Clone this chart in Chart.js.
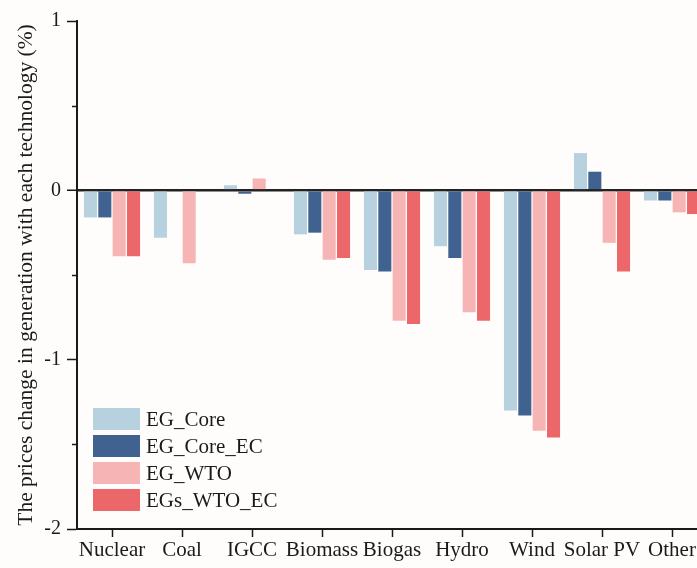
<!DOCTYPE html>
<html>
<head>
<meta charset="utf-8">
<script src="https://cdn.jsdelivr.net/npm/chart.js@4.4.1/dist/chart.umd.min.js"></script>
<style>
  html, body { margin: 0; padding: 0; background: #fefdfc; overflow: hidden; }
  canvas { display: block; }
</style>
</head>
<body>
<canvas id="barChart" width="708" height="568"></canvas>
<script>
// categories and series
var technologies = ['Nuclear', 'Coal', 'IGCC', 'Biomass', 'Biogas', 'Hydro', 'Wind', 'Solar PV', 'Other'];
var egCore    = [-0.16, -0.28,  0.03, -0.26, -0.47, -0.33, -1.30,  0.22, -0.06];
var egCoreEC  = [-0.16,  0.00, -0.02, -0.25, -0.48, -0.40, -1.33,  0.11, -0.06];
var egWTO     = [-0.39, -0.43,  0.07, -0.41, -0.77, -0.72, -1.42, -0.31, -0.13];
var egsWTOEC  = [-0.39,  0.00,  0.00, -0.40, -0.79, -0.77, -1.46, -0.48, -0.14];
var seriesNames = ['EG_Core', 'EG_Core_EC', 'EG_WTO', 'EGs_WTO_EC'];
var yTicks = [-2, -1, 0, 1];
var yMinorTicks = [-1.5, -0.5, 0.5];

var serif = '"Liberation Serif", "Times New Roman", serif';
var ink = '#1a1a1a';
var colors = ['#b8d1de', '#3f6290', '#f7b4b5', '#ec6769'];

// legend sits inside the plot, lower left; short minor ticks on y
var extras = {
    id: 'extras',
    afterDraw: function(chart) {
        var ctx = chart.ctx;
        var area = chart.chartArea;
        var yScale = chart.scales.y;
        ctx.save();
        ctx.strokeStyle = ink;
        ctx.lineWidth = 1.5;
        yMinorTicks.forEach(function(v) {
            var py = Math.round(yScale.getPixelForValue(v)) + 0.5;
            ctx.beginPath();
            ctx.moveTo(area.left - 5, py);
            ctx.lineTo(area.left, py);
            ctx.stroke();
        });
        var x = area.left + 16;
        var y = area.bottom - 121;
        ctx.font = '21px ' + serif;
        ctx.textBaseline = 'middle';
        chart.data.datasets.forEach(function(ds, i) {
            ctx.fillStyle = ds.backgroundColor;
            ctx.fillRect(x, y + i * 27, 47, 22);
            ctx.fillStyle = ink;
            ctx.fillText(ds.label, x + 53, y + i * 27 + 12);
        });
        ctx.restore();
    }
};

var ctx = document.getElementById('barChart');
var myBarChart = new Chart(ctx, {
    type: 'bar',
    data: {
        labels: technologies,
        datasets: [egCore, egCoreEC, egWTO, egsWTOEC].map(function(vals, i) {
            return {
                label: seriesNames[i],
                data: vals,
                backgroundColor: colors[i],
                borderWidth: 0,
                categoryPercentage: 0.82,
                barPercentage: 0.91
            };
        })
    },
    options: {
        responsive: false,
        animation: false,
        layout: { padding: { top: 21, right: 1, left: 0, bottom: 0 } },
        plugins: {
            legend: { display: false },
            tooltip: { enabled: false }
        },
        scales: {
            x: {
                afterFit: function(s) { s.height = 39; },
                border: { color: ink, width: 2 },
                grid: {
                    offset: false,
                    drawOnChartArea: false,
                    tickLength: 8,
                    tickColor: ink,
                    tickWidth: 1.5
                },
                ticks: {
                    color: ink,
                    font: { family: serif, size: 21 },
                    padding: 1,
                    maxRotation: 0,
                    autoSkip: false
                }
            },
            y: {
                min: -2,
                max: 1,
                afterFit: function(s) { s.width = 77; },
                border: { color: ink, width: 2 },
                grid: {
                    color: function(c) { return c.tick && c.tick.value === 0 ? '#222' : 'transparent'; },
                    lineWidth: function(c) { return c.tick && c.tick.value === 0 ? 2.5 : 1; },
                    tickColor: function(c) { return c.tick && yTicks.indexOf(c.tick.value) >= 0 ? ink : 'transparent'; },
                    tickWidth: 1.5,
                    tickLength: 10
                },
                ticks: {
                    stepSize: 0.5,
                    color: ink,
                    font: { family: serif, size: 20 },
                    padding: 6,
                    callback: function(v) { return yTicks.indexOf(v) >= 0 ? String(v) : ''; }
                },
                title: {
                    display: true,
                    text: 'The prices change in generation with each technology (%)',
                    color: ink,
                    font: { family: serif, size: 21.5 },
                    padding: { top: 13, bottom: 0 }
                }
            }
        }
    },
    plugins: [extras]
});
</script>
</body>
</html>
